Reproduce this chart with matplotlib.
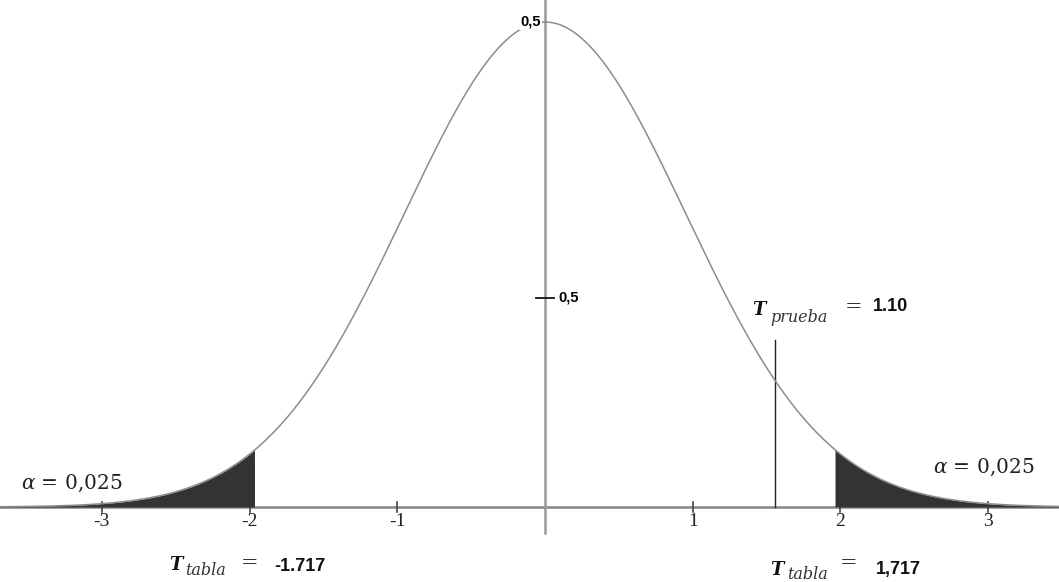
import numpy as np
import matplotlib.pyplot as plt

# chart values
x_ticks = [-3, -2, -1, 1, 2, 3]
x_tick_labels = ["-3", "-2", "-1", "1", "2", "3"]
peak = 0.3989
sigma = 0.95               # width of the drawn bell
t_critical = 1.96          # shaded tail boundary
t_prueba = 1.56            # position of test statistic line
t_prueba_label = "1.10"
t_tabla_left = "-1.717"
t_tabla_right = "1,717"
alpha_label = r"$\alpha$ = 0,025"
y_labels = ["0,5", "0,5"]
y_label_pos = [0.399, 0.172]

x = np.linspace(-3.69, 3.48, 800)
pdf = peak * np.exp(-x ** 2 / (2 * sigma ** 2))

fig = plt.figure(figsize=(10.59, 5.82), dpi=100)
ax = fig.add_axes([0, 0, 1, 1])
ax.set_xlim(-3.69, 3.48)
ax.set_ylim(-0.0617, 0.417)
ax.axis("off")

# axes lines
ax.axhline(0, color="#858585", lw=1.8, zorder=1)
ax.plot([0, 0], [-0.021, 0.417], color="#9a9a9a", lw=1.8, zorder=1)
for t in x_ticks:
    ax.plot([t, t], [-0.004, 0.004], color="#444444", lw=1.2, zorder=2)
ax.plot([-0.06, 0.06], [y_label_pos[1], y_label_pos[1]], color="#111111", lw=1.3, zorder=2)

# curve and tails
ax.plot(x, pdf, color="#8c8c8c", lw=1.1, zorder=3)
left = x <= -t_critical
right = x >= t_critical
ax.fill_between(x[left], 0, pdf[left], color="#333333", zorder=2, lw=0)
ax.fill_between(x[right], 0, pdf[right], color="#333333", zorder=2, lw=0)

# test statistic line
ax.plot([t_prueba, t_prueba], [0, 0.137], color="#222222", lw=1.0, zorder=2)

# tick labels
for t, lab in zip(x_ticks, x_tick_labels):
    ax.text(t, -0.0118, lab, ha="center", va="center", fontsize=14,
            family="Liberation Serif", color="#222222")

ax.text(-0.03, y_label_pos[0], y_labels[0], ha="right", va="center", fontsize=10.5,
        family="Liberation Sans", weight="bold", zorder=4,
        bbox=dict(facecolor="white", edgecolor="none", pad=1.0))
ax.text(0.09, y_label_pos[1], y_labels[1], ha="left", va="center", fontsize=10.5,
        family="Liberation Sans", weight="bold")

# alpha labels
for ax_x, ax_y in [(-3.546, 0.0197), (2.624, 0.0329)]:
    ax.text(ax_x, ax_y, alpha_label, ha="left", va="center", fontsize=14.5,
            family="DejaVu Serif", math_fontfamily="dejavuserif", color="#222222")


# T labels
def t_label(tx, ty, sub, sx, sy, ex, ey, value, vx, vy):
    ax.text(tx, ty, "T", ha="left", va="center", fontsize=13,
            family="DejaVu Serif", weight="bold", style="italic", color="#111111")
    ax.text(sx, sy, sub, ha="left", va="center", fontsize=11.5,
            family="DejaVu Serif", style="italic", color="#333333")
    ax.text(ex, ey, "=", ha="center", va="center", fontsize=15,
            family="DejaVu Serif", color="#333333")
    ax.text(vx, vy, value, ha="left", va="center", fontsize=13,
            family="Liberation Sans", weight="bold", color="#111111")


t_label(-2.542, -0.0477, "tabla", -2.434, -0.0526, -2.0, -0.046,
        t_tabla_left, -1.83, -0.049)
t_label(1.525, -0.0515, "tabla", 1.64, -0.0555, 2.054, -0.046,
        t_tabla_right, 2.237, -0.0515)
t_label(1.403, 0.162, "prueba", 1.525, 0.156, 2.088, 0.1645,
        t_prueba_label, 2.217, 0.165)

fig.savefig("out.png", dpi=100)
